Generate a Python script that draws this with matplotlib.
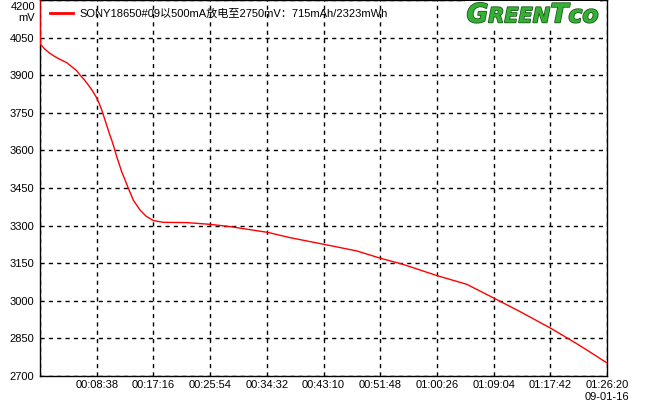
import matplotlib
matplotlib.use("Agg")
import matplotlib.pyplot as plt
import matplotlib.patheffects as pe
from matplotlib.offsetbox import TextArea, HPacker, AnchoredOffsetbox

# discharge curve: elapsed seconds / mV
time_s = [0, 3, 46, 91, 137, 183, 244, 290, 335, 365, 405, 441, 476, 512,
          540, 564, 594, 633, 655, 679, 701, 724, 746, 777, 807, 852,
          914, 968, 1035, 1126, 1340, 1556, 1736, 2080, 2284, 2597, 2893,
          3109, 3319, 3630, 3898, 4150, 4385, 4668, 4888, 4995, 5180]
volt_mv = [4200, 4024, 4003, 3987, 3974, 3963, 3950, 3934, 3918, 3901, 3882,
           3861, 3840, 3814, 3788, 3761, 3721, 3668, 3641, 3608, 3575,
           3545, 3515, 3482, 3449, 3402, 3362, 3338, 3320, 3313, 3312, 3305,
           3296, 3273, 3252, 3225, 3199, 3170, 3145, 3100, 3066, 3010, 2957,
           2890, 2833, 2804, 2752]

legend_label = "SONY18650#09以500mA放电至2750mV：715mAh/2323mWh"
x_ticks = [518 * k for k in range(11)]
x_labels = ["", "00:08:38", "00:17:16", "00:25:54", "00:34:32", "00:43:10",
            "00:51:48", "01:00:26", "01:09:04", "01:17:42", "01:26:20\n09-01-16"]
y_ticks = list(range(2700, 4201, 150))
y_labels = [str(v) for v in y_ticks[:-1]] + [""]

W, H = 648, 404
fig = plt.figure(figsize=(W / 100, H / 100), dpi=100)
ax = fig.add_axes([40 / W, (H - 376) / H, 567 / W, 376 / H])

ax.plot(time_s, volt_mv, color="#ff0000", linewidth=1.0, label=legend_label,
        zorder=3)

ax.set_xlim(0, 5180)
ax.set_ylim(2700, 4200)
ax.set_xticks(x_ticks)
ax.set_xticklabels(x_labels, fontsize=8, family="Liberation Sans")
ax.set_yticks(y_ticks)
ax.set_yticklabels(y_labels, fontsize=8, family="Liberation Sans")
ax.tick_params(axis="both", length=0)
ax.tick_params(axis="x", pad=3)
ax.tick_params(axis="y", pad=4)
ax.grid(True, color="black", linestyle=(0, (3, 3)), linewidth=1)
for sp in ax.spines.values():
    sp.set_linewidth(1)
    sp.set_color("black")

# top y label sits lower with the unit under it
fig.text(35 / W, 1 - 7 / H, "4200", ha="right", va="center", fontsize=8,
         family="Liberation Sans")
fig.text(35 / W, 1 - 18 / H, "mV", ha="right", va="center", fontsize=8,
         family="Liberation Sans")

leg = ax.legend(loc="upper left", bbox_to_anchor=(50 / W, 1 - 9 / H),
                bbox_transform=fig.transFigure, frameon=False, borderpad=0,
                borderaxespad=0, handlelength=2.07, handletextpad=0.55,
                prop={"family": ["Liberation Sans", "Noto Sans CJK SC"], "size": 8})
leg.get_lines()[0].set_linewidth(2)

# GreenTco logo
stroke = [pe.withStroke(linewidth=1.2, foreground="#1b5a1b")]
pieces = [("G", 19), ("REEN", 15), ("T", 19), ("co", 17)]
areas = []
for txt, sz in pieces:
    areas.append(TextArea(txt, textprops=dict(size=sz, weight="bold", style="italic",
                                              color="#35b035", family="DejaVu Sans",
                                              path_effects=stroke)))
logo = HPacker(children=areas, align="baseline", pad=0, sep=0)
box = AnchoredOffsetbox(loc="upper right", child=logo, pad=0.1, borderpad=0,
                        bbox_to_anchor=(600 / W, 1 - 1 / H),
                        bbox_transform=fig.transFigure, frameon=True)
box.patch.set_facecolor("white")
box.patch.set_edgecolor("none")
ax.add_artist(box)

fig.savefig("out.png", dpi=100)
